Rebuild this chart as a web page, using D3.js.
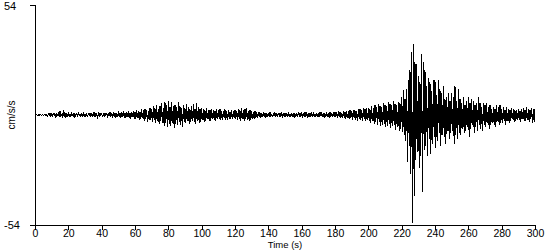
<!DOCTYPE html>
<html>
<head>
<meta charset="utf-8">
<script src="https://cdn.jsdelivr.net/npm/d3@7.9.0/dist/d3.min.js"></script>
<style>
  html, body { margin: 0; padding: 0; background: #fff; }
  svg { display: block; font-family: "Liberation Sans", Arial, sans-serif; }
</style>
</head>
<body>
<div id="chart"></div>
<script>
// acceleration (cm/s/s), one value every 0.5 s, t = 0..300
const step = 0.5;
const accel = [
  0.2,-0.1,0.3,-0.2,0.1,-0.3,0.2,0.0,-0.2,0.3,        // 0
  -0.3,0.2,0.4,-0.4,0.1,-0.6,0.5,-0.3,0.8,-0.5,       // 5
  0.6,-0.9,1.1,-0.4,0.7,-1.2,0.9,-0.6,1.4,-0.8,       // 10
  1.8,-1.0,0.6,-1.4,2.2,-0.9,1.2,-1.6,0.8,-0.7,       // 15
  1.3,-1.1,0.5,-0.9,1.6,-0.6,1.0,-1.3,0.7,-0.5,       // 20
  1.1,-0.8,1.4,-0.4,0.6,-1.0,0.9,-0.7,1.2,-0.9,       // 25
  0.5,-0.6,0.9,-1.1,0.7,-0.4,1.0,-0.8,0.6,-0.5,       // 30
  0.8,-0.7,1.2,-0.5,0.4,-0.9,0.7,-0.6,1.0,-0.4,       // 35
  0.6,-0.5,0.3,-0.7,0.9,-0.4,0.5,-0.8,1.1,-0.6,       // 40
  1.4,-0.9,0.7,-1.2,1.6,-0.8,1.0,-1.3,0.8,-1.0,       // 45
  1.7,-1.1,0.9,-1.5,1.3,-0.7,1.9,-1.2,1.1,-1.6,       // 50
  1.5,-1.0,2.0,-1.4,0.9,-1.8,1.6,-1.1,2.1,-1.7,       // 55
  1.4,-2.0,2.4,-1.2,1.8,-2.3,1.5,-1.9,2.7,-1.6,       // 60
  2.2,-2.8,3.0,-1.9,2.5,-3.2,1.8,-2.6,3.6,-2.4,       // 65
  2.9,-3.5,4.2,-2.6,3.3,-4.0,5.0,-3.1,2.8,-4.6,       // 70
  4.4,-2.9,5.8,-4.1,3.6,-5.3,6.3,-3.8,4.9,-6.0,       // 75
  7.0,-4.5,3.9,-5.6,6.2,-3.7,4.6,-6.4,5.1,-4.2,       // 80
  3.8,-5.0,6.6,-3.3,4.2,-4.8,3.5,-5.9,4.7,-3.6,       // 85
  3.2,-4.1,5.2,-2.9,3.9,-4.6,2.7,-3.5,4.4,-3.0,       // 90
  5.4,-3.2,3.0,-4.4,5.9,-2.8,3.7,-3.9,2.9,-3.4,       // 95
  3.6,-2.5,2.8,-3.3,2.2,-2.9,3.4,-2.1,2.6,-3.0,       // 100
  2.3,-2.7,3.1,-1.9,2.5,-2.4,1.8,-2.8,2.9,-2.0,       // 105
  2.4,-1.8,2.9,-2.3,1.7,-2.6,2.1,-1.6,2.7,-2.2,       // 110
  1.9,-2.5,2.3,-1.7,1.5,-2.1,2.6,-1.9,2.0,-1.5,       // 115
  2.5,-2.0,1.7,-2.4,2.9,-1.8,2.2,-2.7,3.2,-2.1,       // 120
  2.4,-3.0,2.8,-1.9,3.3,-2.5,2.0,-2.9,2.6,-2.2,       // 125
  2.1,-1.7,1.6,-2.0,1.9,-1.4,1.3,-1.6,1.5,-1.1,       // 130
  1.2,-1.3,0.9,-1.0,1.4,-0.8,1.1,-1.2,0.8,-0.9,       // 135
  1.0,-0.7,1.3,-0.9,0.6,-1.1,0.9,-0.6,1.2,-0.8,       // 140
  0.7,-1.0,1.1,-0.5,0.8,-0.9,1.3,-0.7,0.6,-0.8,       // 145
  1.0,-0.6,0.8,-1.1,1.2,-0.7,0.5,-0.9,1.0,-0.8,       // 150
  0.9,-1.2,0.7,-0.6,1.1,-0.9,1.4,-0.5,0.8,-1.0,       // 155
  0.6,-0.8,1.0,-0.7,1.3,-1.0,0.7,-0.6,0.9,-1.1,       // 160
  1.1,-0.5,0.8,-0.9,1.2,-0.7,0.6,-1.0,1.0,-0.8,       // 165
  0.9,-1.1,1.4,-0.6,0.8,-0.9,1.1,-1.2,0.7,-0.8,       // 170
  1.2,-0.9,0.9,-1.3,1.5,-0.7,1.0,-1.0,1.3,-1.1,       // 175
  1.6,-1.0,1.2,-1.4,1.8,-0.9,1.4,-1.5,1.1,-1.3,       // 180
  1.9,-1.2,1.5,-1.7,2.1,-1.3,1.7,-1.9,2.3,-1.5,       // 185
  2.0,-2.2,2.6,-1.6,2.2,-2.5,1.9,-2.8,2.7,-2.0,       // 190
  3.0,-2.3,2.5,-2.9,3.3,-2.1,2.8,-3.1,3.4,-2.6,       // 195
  3.6,-2.9,2.7,-3.8,4.2,-3.0,3.5,-4.4,4.8,-3.3,       // 200
  4.0,-5.0,5.3,-3.6,4.5,-5.6,3.9,-4.8,5.8,-4.2,       // 205
  5.0,-6.0,4.4,-5.2,6.2,-4.5,5.5,-6.6,4.8,-5.4,       // 210
  6.9,-5.0,5.6,-7.2,4.9,-6.1,6.4,-7.8,5.7,-6.8,       // 215
  9,-8.5,12.5,-10,8,-13,13,-23,17,-15,                // 220
  22,-29,31,-53,35,-40,26,-22,25,-18,                 // 225
  19,-26,16,-20,30,-38,26,-17,22,-15,                 // 230
  14,-20,18,-12,16,-19,12,-14,17,-11,                 // 235
  17,-16,10,-13,17,-9,13,-15,11,-10,                  // 240
  14,-11,8,-14,9,-8,11,-12,7,-9,                      // 245
  11,-8,9,-14,14,-10,7,-12,13,-9,                     // 250
  8,-10,6,-7,9,-9,5,-8,7,-6,                          // 255
  9,-11,6,-7,8,-5,7,-9,5,-6,                          // 260
  6,-8,9,-5,6,-7,4,-8,6,-5,                           // 265
  5,-6,6,-4,4,-7,5,-5,3,-4,                           // 270
  4,-5,3,-6,5,-3,4,-5,5,-4,                           // 275
  3,-4,4,-3,2.5,-5,4,-3,3,-4,                         // 280
  2.5,-3,3.5,-2,2.8,-3.5,2.2,-3,2.5,-2.5,             // 285
  3,-2.5,2,-3.5,2.8,-2,3.2,-2.8,2.4,-3,               // 290
  4,-2.6,3,-3.5,2.5,-2,3.4,-4,3,-3.6,                 // 295
  3                                                   // 300
];
const xTicks = [0, 20, 40, 60, 80, 100, 120, 140, 160, 180, 200, 220, 240, 260, 280, 300];
const yTicks = [-54, 54];

const width = 550;
const height = 250;
const margin = { top: 5, right: 15, bottom: 25, left: 35 };
const font = '"Liberation Sans", Arial, sans-serif';

const svg = d3.select('#chart')
  .append('svg')
  .attr('width', width)
  .attr('height', height);

const xScale = d3.scaleLinear()
  .domain([0, 300])
  .range([margin.left, width - margin.right]);

const yScale = d3.scaleLinear()
  .domain([-54, 54])
  .range([height - margin.bottom, margin.top]);

const series = accel.map((v, i) => ({ t: i * step, v }));

const line = d3.line()
  .x(d => xScale(d.t))
  .y(d => yScale(d.v));

svg.append('path')
  .datum(series)
  .attr('d', line)
  .attr('fill', 'none')
  .attr('stroke', '#000')
  .attr('stroke-width', 1)
  .attr('shape-rendering', 'crispEdges');

// x axis
const xAxis = svg.append('g')
  .attr('transform', `translate(0, ${yScale(-54)})`)
  .call(d3.axisBottom(xScale).tickValues(xTicks).tickSize(5).tickPadding(0).tickFormat(d3.format('d')));

// y axis (ticks only, labels drawn below)
const yAxis = svg.append('g')
  .attr('transform', `translate(${margin.left}, 0)`)
  .call(d3.axisLeft(yScale).tickValues(yTicks).tickSize(5).tickFormat(''));

for (const g of [xAxis, yAxis]) {
  g.select('.domain').attr('stroke', '#000').attr('shape-rendering', 'crispEdges');
  g.selectAll('.tick line').attr('stroke', '#000').attr('shape-rendering', 'crispEdges');
  g.selectAll('text').attr('fill', '#000').style('font-size', '10.5px').style('font-family', font);
}
xAxis.select('.domain').attr('d', `M${margin.left - 5},0.5H${xScale(300)}`);
yAxis.select('.domain').attr('d', `M0.5,${yScale(54)}V${yScale(-54)}`);

svg.append('text').attr('x', 4).attr('y', 10).text('54')
  .style('font-size', '11px');
svg.append('text').attr('x', 4).attr('y', 229).text('-54')
  .style('font-size', '11px');

svg.append('text')
  .attr('transform', `translate(15, ${yScale(0)}) rotate(-90)`)
  .attr('text-anchor', 'middle')
  .style('font-size', '10px')
  .text('cm/s/s');

svg.append('text')
  .attr('x', xScale(150))
  .attr('y', 248)
  .attr('text-anchor', 'middle')
  .style('font-size', '9.5px')
  .text('Time (s)');
</script>
</body>
</html>
